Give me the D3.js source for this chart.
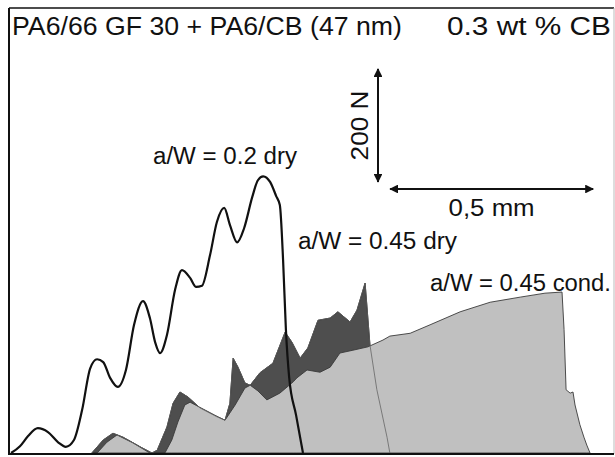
<!DOCTYPE html>
<html>
<head>
<meta charset="utf-8">
<script src="https://cdn.jsdelivr.net/npm/d3@7"></script>
<style>
  body { margin: 0; background: white; }
  text { font-family: "Liberation Sans", Arial, sans-serif; }
</style>
</head>
<body>
<div id="container"></div>
<script>
// crack opening in mm, force in N (0,5 mm / 200 N)
let dry02 = [
  [0.005, 0], [0.027, 12], [0.047, 30], [0.071, 44], [0.096, 37], [0.121, 19],
  [0.140, 11], [0.160, 23], [0.180, 76], [0.200, 150], [0.217, 166], [0.232, 161],
  [0.249, 133], [0.268, 117], [0.288, 147], [0.308, 227], [0.330, 269], [0.347, 239],
  [0.360, 196], [0.372, 177], [0.389, 209], [0.409, 289], [0.426, 324], [0.446, 310],
  [0.461, 294], [0.475, 296], [0.495, 350], [0.512, 409], [0.530, 434], [0.544, 404],
  [0.562, 373], [0.579, 398], [0.599, 453], [0.613, 483], [0.626, 490], [0.643, 480],
  [0.658, 455], [0.667, 439], [0.675, 342], [0.682, 218], [0.690, 134], [0.707, 67],
  [0.724, 0]
];

let dry045 = [
  [0.204, 0], [0.232, 23], [0.256, 35], [0.281, 28], [0.323, 11], [0.352, 0],
  [0.365, 5], [0.389, 46], [0.404, 88], [0.421, 108], [0.441, 99], [0.470, 80],
  [0.512, 64], [0.532, 58], [0.544, 88], [0.552, 168], [0.564, 152], [0.581, 124],
  [0.594, 120], [0.618, 142], [0.650, 159], [0.680, 214], [0.697, 196], [0.717, 168],
  [0.736, 186], [0.761, 235], [0.791, 239], [0.810, 250], [0.840, 232], [0.857, 253],
  [0.877, 301], [0.889, 191], [0.906, 112], [0.931, 28], [0.938, 0]
];

let cond045 = [
  [0.217, 0], [0.241, 19], [0.266, 32], [0.305, 18], [0.347, 0], [0.384, 0],
  [0.401, 23], [0.416, 55], [0.433, 85], [0.446, 90], [0.483, 76], [0.507, 67],
  [0.532, 58], [0.557, 85], [0.581, 115], [0.594, 120], [0.613, 110], [0.635, 94],
  [0.667, 106], [0.700, 126], [0.709, 133], [0.734, 147], [0.766, 143], [0.791, 152],
  [0.815, 177], [0.847, 182], [0.884, 188], [0.921, 200], [0.938, 207], [0.988, 212],
  [1.037, 227], [1.111, 250], [1.185, 267], [1.259, 276], [1.320, 283], [1.362, 285],
  [1.367, 219], [1.372, 112], [1.382, 106], [1.389, 108], [1.394, 85], [1.406, 50],
  [1.416, 28], [1.423, 14], [1.431, 0]
];

let labels = ["a/W = 0.2 dry", "a/W = 0.45 dry", "a/W = 0.45 cond."];
let title = "PA6/66 GF 30 + PA6/CB (47 nm)";
let titleRight = "0.3 wt % CB";
let scaleForce = 200;   // N
let scaleLength = 0.5;  // mm

let w = 615;
let h = 457;
let frameLeft = 9;
let frameRight = 614;
let frameTop = 8;
let frameBottom = 453;

let viz = d3.select("#container")
  .append("svg")
    .attr("width", w)
    .attr("height", h)
    .style("background-color", "white")
;

let xScale = d3.scaleLinear().domain([0, 1.49]).range([frameLeft, frameRight]);
let yScale = d3.scaleLinear().domain([0, 788]).range([frameBottom, frameTop]);

let area = d3.area()
  .x(d => xScale(d[0]))
  .y0(yScale(0))
  .y1(d => yScale(d[1]));

let line = d3.line()
  .x(d => xScale(d[0]))
  .y(d => yScale(d[1]));

// a/W = 0.45 dry, dark fill
viz.append("path")
  .datum(dry045)
  .attr("d", area)
  .attr("fill", "#4e4e4e")
  .attr("stroke", "#222")
  .attr("stroke-width", 1)
;

// a/W = 0.45 cond, light fill on top
viz.append("path")
  .datum(cond045)
  .attr("d", area)
  .attr("fill", "#c0c0c0")
  .attr("stroke", "#3a3a3a")
  .attr("stroke-width", 0.9)
;

// outline of the dry curve still seen through the light area
viz.append("path")
  .datum(dry045)
  .attr("d", line)
  .attr("fill", "none")
  .attr("stroke", "#666")
  .attr("stroke-width", 0.8)
;

// a/W = 0.2 dry, black line
viz.append("path")
  .datum(dry02)
  .attr("d", line.curve(d3.curveMonotoneX))
  .attr("fill", "none")
  .attr("stroke", "#111")
  .attr("stroke-width", 2.2)
  .attr("stroke-linejoin", "round")
;

// frame
viz.append("line") // top
  .attr("x1", frameLeft).attr("y1", frameTop).attr("x2", frameRight).attr("y2", frameTop)
  .style("stroke", "#111").style("stroke-width", 1.6);
viz.append("line") // right
  .attr("x1", frameRight).attr("y1", frameTop).attr("x2", frameRight).attr("y2", frameBottom + 1)
  .style("stroke", "#bbb").style("stroke-width", 1);
viz.append("line") // left
  .attr("x1", frameLeft).attr("y1", frameTop).attr("x2", frameLeft).attr("y2", frameBottom + 2)
  .style("stroke", "#111").style("stroke-width", 2);
viz.append("line") // bottom
  .attr("x1", frameLeft).attr("y1", frameBottom + 1).attr("x2", frameRight).attr("y2", frameBottom + 1)
  .style("stroke", "#111").style("stroke-width", 2.2);

// title (the scan's font runs a bit wider than Arial, so stretch with textLength)
viz.append("text")
  .text(title)
  .attr("x", 12)
  .attr("y", 35)
  .attr("font-size", 26)
  .attr("textLength", 390)
  .attr("lengthAdjust", "spacingAndGlyphs")
  .attr("fill", "#111")
;
viz.append("text")
  .text(titleRight)
  .attr("x", 611)
  .attr("y", 35)
  .attr("font-size", 26)
  .attr("text-anchor", "end")
  .attr("textLength", 164)
  .attr("lengthAdjust", "spacingAndGlyphs")
  .attr("fill", "#111")
;

// curve labels
viz.append("text").text(labels[0])
  .attr("x", 153).attr("y", 164).attr("font-size", 23.5)
  .attr("textLength", 144).attr("lengthAdjust", "spacingAndGlyphs")
  .attr("fill", "#111");
viz.append("text").text(labels[1])
  .attr("x", 298).attr("y", 249).attr("font-size", 23.5)
  .attr("textLength", 159).attr("lengthAdjust", "spacingAndGlyphs")
  .attr("fill", "#111");
viz.append("text").text(labels[2])
  .attr("x", 430).attr("y", 291).attr("font-size", 23.5)
  .attr("textLength", 181).attr("lengthAdjust", "spacingAndGlyphs")
  .attr("fill", "#111");

// scale arrows
viz.append("defs").append("marker")
  .attr("id", "head")
  .attr("viewBox", "0 0 10 10")
  .attr("refX", 9)
  .attr("refY", 5)
  .attr("markerWidth", 5.5)
  .attr("markerHeight", 4.4)
  .attr("markerUnits", "strokeWidth")
  .attr("orient", "auto-start-reverse")
  .append("path")
    .attr("d", "M0,0 L10,5 L0,10 Z")
    .attr("fill", "#111")
;

let forceBase = 480;
viz.append("line") // 200 N arrow
  .attr("x1", 378)
  .attr("y1", yScale(forceBase))
  .attr("x2", 378)
  .attr("y2", yScale(forceBase + scaleForce))
  .style("stroke", "#111")
  .style("stroke-width", 2)
  .attr("marker-start", "url(#head)")
  .attr("marker-end", "url(#head)")
;
viz.append("text")
  .text(scaleForce + " N")
  .attr("font-size", 24)
  .attr("fill", "#111")
  .attr("text-anchor", "middle")
  .attr("textLength", 70)
  .attr("lengthAdjust", "spacingAndGlyphs")
  .attr("transform", "translate(368," + yScale(forceBase + scaleForce / 2) + ") rotate(-90)")
;

let lengthBase = 0.9386;
viz.append("line") // 0,5 mm arrow
  .attr("x1", xScale(lengthBase))
  .attr("y1", 189)
  .attr("x2", xScale(lengthBase + scaleLength))
  .attr("y2", 189)
  .style("stroke", "#111")
  .style("stroke-width", 2)
  .attr("marker-start", "url(#head)")
  .attr("marker-end", "url(#head)")
;
viz.append("text")
  .text("0,5 mm")
  .attr("font-size", 24)
  .attr("fill", "#111")
  .attr("text-anchor", "middle")
  .attr("textLength", 86)
  .attr("lengthAdjust", "spacingAndGlyphs")
  .attr("x", xScale(lengthBase + scaleLength / 2))
  .attr("y", 216)
;
</script>
</body>
</html>
